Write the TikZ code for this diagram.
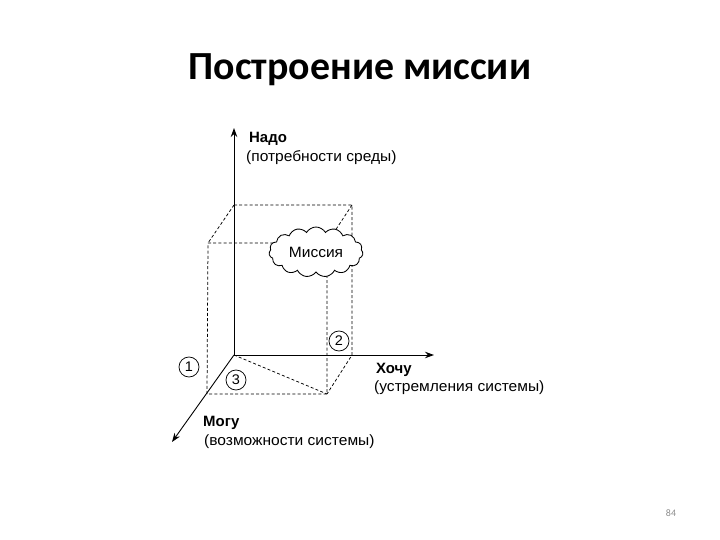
\documentclass[tikz,border=0pt]{standalone}
\usepackage{fontspec}
\setmainfont{Liberation Sans}
\newfontfamily\titlefont{Carlito}
\newfontfamily\widefont[FakeStretch=1.04]{Liberation Sans}
\usetikzlibrary{arrows.meta,shapes.symbols}
\tikzset{
  axis/.style={line width=0.9bp,-{Stealth[length=9bp,width=6.5bp]}},
  hid/.style={line width=0.75bp,dash pattern=on 3bp off 2.2bp},
  numc/.style={circle,draw,line width=0.75bp,minimum size=20bp,inner sep=0pt,font=\widefont\fontsize{14}{14}\selectfont},
  lbl/.style={anchor=west,inner sep=0pt,font=\widefont\fontsize{15}{17}\selectfont},
  lblb/.style={anchor=west,inner sep=0pt,font=\fontsize{15}{17}\selectfont\bfseries},
}
\begin{document}
\begin{tikzpicture}[x=1bp,y=-1bp]
\useasboundingbox (0,0) rectangle (720,540);
% title
\node[font=\titlefont\bfseries\fontsize{40}{42}\selectfont] (title) at (360,70) {Построение миссии};
% cube corners
\coordinate (O) at (234,355);
\coordinate (BT) at (234,205);
\coordinate (BTR) at (352,205);
\coordinate (BBR) at (352,355);
\coordinate (FTL) at (208,243);
\coordinate (FTR) at (327,243);
\coordinate (FBL) at (207,394);
\coordinate (FBR) at (327,394);
\coordinate (Zend) at (234,128);
\coordinate (Xend) at (434,355);
\coordinate (Yend) at (172,442);
% hidden edges
\draw[hid] (BT) -- (BTR) -- (BBR) -- (FBR);
\draw[hid] (BT) -- (FTL);
\draw[hid] (BTR) -- (FTR);
\draw[hid] (FTL) -- (FTR) -- (FBR) -- (FBL) -- (FTL);
\draw[hid] (O) -- (FBR);
% axes
\draw[axis] (O) -- (Zend);
\draw[axis] (O) -- (Xend);
\draw[axis] (O) -- (Yend);
% cloud
\node[cloud,draw,fill=white,line width=0.85bp,cloud puffs=15,cloud puff arc=120,aspect=2.2,minimum width=94bp,minimum height=50bp,inner sep=0pt,font=\widefont\fontsize{15}{17}\selectfont] (miss) at (316,252) {Миссия};
% numbers
\node[numc] (n1) at (189,367) {1};
\node[numc] (n2) at (339,341) {2};
\node[numc] (n3) at (236,380) {3};
% labels
\node[lblb] (nado) at (249,139) {Надо};
\node[lbl] (nado2) at (246,158) {(потребности среды)};
\node[lblb] (hochu) at (376,370) {Хочу};
\node[lbl] (hochu2) at (374,388) {(устремления системы)};
\node[lblb] (mogu) at (203,423) {Могу};
\node[lbl] (mogu2) at (204,442) {(возможности системы)};
% page number
\node[font=\titlefont\fontsize{10}{10}\selectfont,text=black!45] (pg) at (671,513) {84};
\end{tikzpicture}
\end{document}
